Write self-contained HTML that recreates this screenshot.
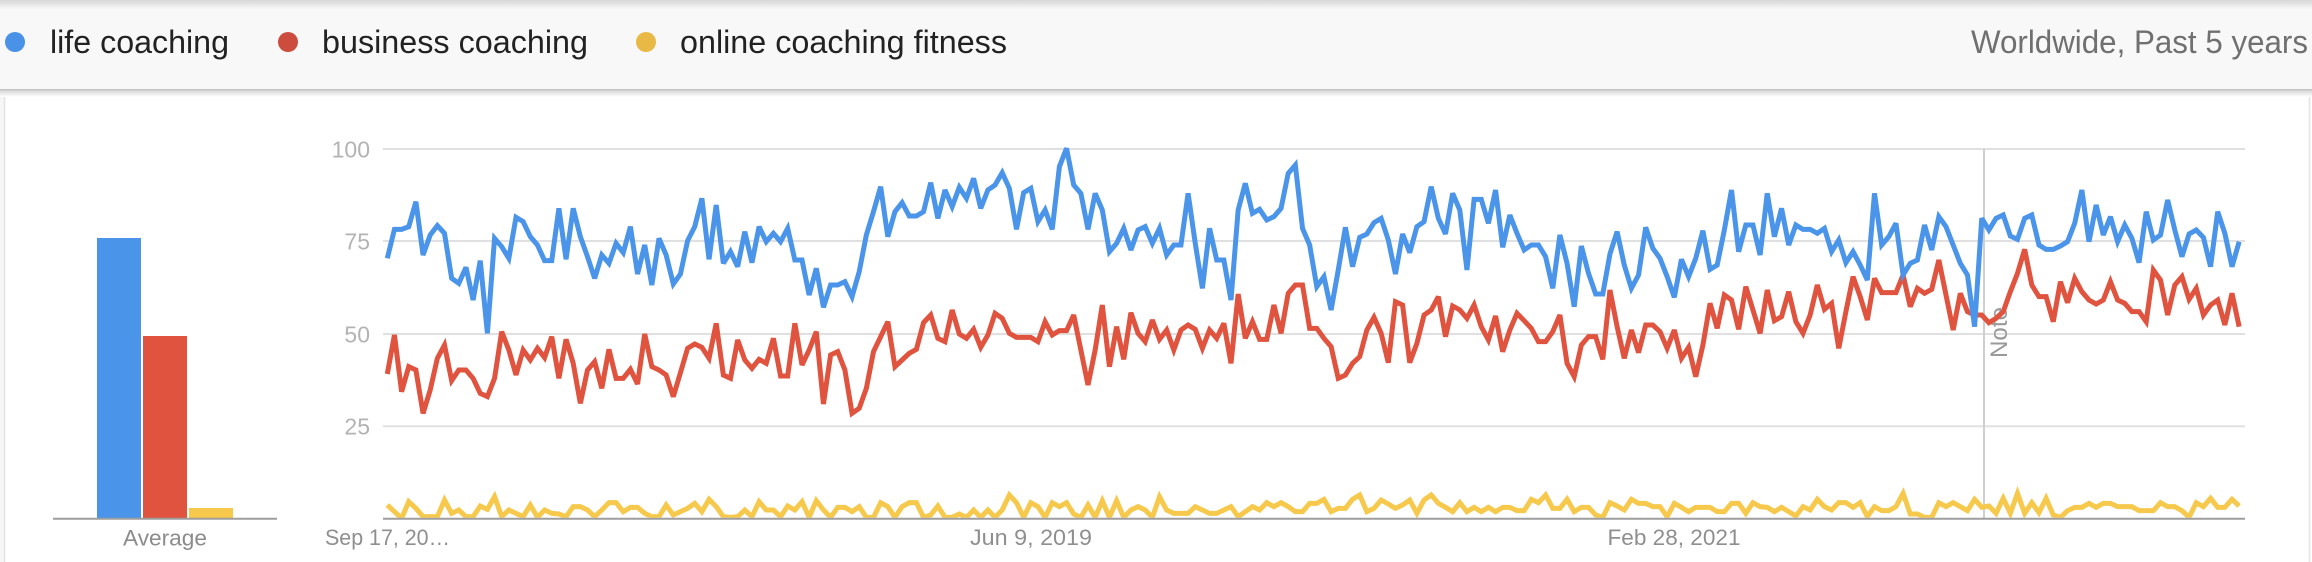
<!DOCTYPE html>
<html>
<head>
<meta charset="utf-8">
<style>
html,body{margin:0;padding:0;background:#fff;}
body{width:2312px;height:562px;overflow:hidden;position:relative;}
svg{position:absolute;left:0;top:0;display:block;}
text{font-family:"Liberation Sans",Arial,sans-serif;}
</style>
</head>
<body>
<svg width="2312" height="562" viewBox="0 0 2312 562" xmlns="http://www.w3.org/2000/svg">
  <defs>
    <linearGradient id="topShade" x1="0" y1="0" x2="0" y2="1">
      <stop offset="0" stop-color="#d6d6d6"/>
      <stop offset="1" stop-color="#f8f8f8"/>
    </linearGradient>
    <linearGradient id="botShade" x1="0" y1="0" x2="0" y2="1">
      <stop offset="0" stop-color="#bdbdbd"/>
      <stop offset="0.3" stop-color="#dcdcdc"/>
      <stop offset="1" stop-color="#ffffff"/>
    </linearGradient>
    <clipPath id="plotClip">
      <rect x="383" y="100" width="1862" height="417.7"/>
    </clipPath>
  </defs>

  <!-- background -->
  <rect x="0" y="0" width="2312" height="562" fill="#ffffff"/>
  <rect x="0" y="90" width="4" height="472" fill="#f6f6f6"/>
  <line x1="4.5" y1="90" x2="4.5" y2="562" stroke="#e3e3e3" stroke-width="1.5"/>
  <line x1="2309.5" y1="90" x2="2309.5" y2="562" stroke="#e3e3e3" stroke-width="1.5"/>

  <!-- header -->
  <rect x="0" y="0" width="2312" height="90" fill="#f8f8f8"/>
  <rect x="0" y="0" width="2312" height="9" fill="url(#topShade)"/>
  <rect x="0" y="89" width="2312" height="8" fill="url(#botShade)"/>

  <circle cx="15" cy="42" r="10" fill="#4a92e8"/>
  <text x="50" y="53" font-size="32" fill="#222222" textLength="179" lengthAdjust="spacingAndGlyphs">life coaching</text>
  <circle cx="288" cy="42" r="10" fill="#cc4d3e"/>
  <text x="322" y="53" font-size="32" fill="#222222" textLength="266" lengthAdjust="spacingAndGlyphs">business coaching</text>
  <circle cx="646" cy="42" r="10" fill="#e9b945"/>
  <text x="680" y="53" font-size="32" fill="#222222" textLength="327" lengthAdjust="spacingAndGlyphs">online coaching fitness</text>
  <text x="1971" y="53" font-size="32" fill="#707070" textLength="337" lengthAdjust="spacingAndGlyphs">Worldwide, Past 5 years</text>

  <!-- average bars -->
  <rect x="97" y="238" width="44" height="280" fill="#4a94e9"/>
  <rect x="143" y="336" width="44" height="182" fill="#e0533f"/>
  <rect x="189" y="508" width="44" height="10" fill="#f6c94c"/>
  <line x1="53" y1="518.7" x2="277" y2="518.7" stroke="#9e9e9e" stroke-width="2"/>
  <text x="165" y="545.5" font-size="22.5" fill="#8c8c8c" text-anchor="middle" textLength="84" lengthAdjust="spacingAndGlyphs">Average</text>

  <!-- gridlines -->
  <g stroke="#e0e0e0" stroke-width="2">
    <line x1="383" y1="149" x2="2245" y2="149"/>
    <line x1="383" y1="241" x2="2245" y2="241"/>
    <line x1="383" y1="334" x2="2245" y2="334"/>
    <line x1="383" y1="426.3" x2="2245" y2="426.3"/>
  </g>
  <g font-size="23" fill="#b3b3b3" text-anchor="end">
    <text x="370" y="157.3">100</text>
    <text x="370" y="249.3">75</text>
    <text x="370" y="342.3">50</text>
    <text x="370" y="434.6">25</text>
  </g>

  <!-- note line -->
  <line x1="1984" y1="149" x2="1984" y2="518" stroke="#cfcfcf" stroke-width="2"/>
  <text transform="translate(2007 358) rotate(-90)" font-size="24" fill="#9a9a9a" textLength="51" lengthAdjust="spacingAndGlyphs">Note</text>

  <!-- series -->
  <g clip-path="url(#plotClip)">
  <g transform="translate(387.3 130) scale(7.15 0.333333)" fill="none" stroke-width="5" stroke-linejoin="miter" stroke-miterlimit="3">
    <polyline vector-effect="non-scaling-stroke" stroke="#f6c94c" points="0,1125 1,1145 2,1165 3,1115 4,1135 5,1160 6,1160 7,1160 8,1110 9,1150 10,1140 11,1160 12,1160 13,1128 14,1138 15,1100 16,1160 17,1140 18,1150 19,1160 20,1125 21,1162 22,1140 23,1150 24,1152 25,1160 26,1130 27,1130 28,1140 29,1160 30,1140 31,1118 32,1118 33,1145 34,1132 35,1132 36,1150 37,1160 38,1160 39,1125 40,1155 41,1145 42,1135 43,1120 44,1145 45,1108 46,1130 47,1160 48,1162 49,1160 50,1140 51,1160 52,1115 53,1140 54,1140 55,1160 56,1128 57,1140 58,1115 59,1162 60,1112 61,1140 62,1162 63,1132 64,1132 65,1145 66,1130 67,1162 68,1162 69,1118 70,1130 71,1162 72,1130 73,1118 74,1118 75,1162 76,1155 77,1128 78,1162 79,1162 80,1152 81,1162 82,1140 83,1162 84,1140 85,1162 86,1140 87,1095 88,1118 89,1162 90,1118 91,1130 92,1162 93,1118 94,1130 95,1118 96,1152 97,1162 98,1125 99,1162 100,1112 101,1162 102,1112 103,1162 104,1140 105,1130 106,1140 107,1162 108,1100 109,1140 110,1150 111,1150 112,1150 113,1130 114,1140 115,1150 116,1150 117,1140 118,1130 119,1160 120,1145 121,1130 122,1140 123,1118 124,1130 125,1118 126,1130 127,1145 128,1145 129,1120 130,1120 131,1108 132,1145 133,1135 134,1135 135,1108 136,1095 137,1145 138,1135 139,1110 140,1122 141,1135 142,1125 143,1110 144,1150 145,1110 146,1095 147,1120 148,1132 149,1145 150,1118 151,1145 152,1132 153,1145 154,1132 155,1145 156,1132 157,1132 158,1142 159,1142 160,1108 161,1118 162,1095 163,1135 164,1135 165,1108 166,1145 167,1132 168,1132 169,1155 170,1162 171,1118 172,1128 173,1140 174,1108 175,1120 176,1120 177,1130 178,1130 179,1160 180,1120 181,1132 182,1145 183,1132 184,1132 185,1132 186,1145 187,1145 188,1120 189,1120 190,1150 191,1118 192,1130 193,1132 194,1145 195,1132 196,1145 197,1158 198,1130 199,1140 200,1108 201,1130 202,1140 203,1118 204,1118 205,1132 206,1118 207,1160 208,1130 209,1142 210,1142 211,1130 212,1090 213,1152 214,1152 215,1162 216,1162 217,1118 218,1130 219,1118 220,1130 221,1142 222,1108 223,1132 224,1128 225,1150 226,1105 227,1150 228,1090 229,1150 230,1118 231,1148 232,1105 233,1155 234,1162 235,1142 236,1132 237,1132 238,1120 239,1132 240,1120 241,1120 242,1130 243,1130 244,1130 245,1142 246,1142 247,1142 248,1118 249,1130 250,1130 251,1142 252,1162 253,1118 254,1130 255,1105 256,1132 257,1132 258,1108 259,1128"/>
    <polyline vector-effect="non-scaling-stroke" stroke="#e0533f" points="0,732 1,615 2,785 3,710 4,720 5,850 6,780 7,685 8,645 9,752 10,720 11,720 12,745 13,790 14,800 15,745 16,605 17,660 18,735 19,660 20,690 21,655 22,683 23,620 24,745 25,628 26,700 27,820 28,720 29,695 30,775 31,658 32,745 33,745 34,718 35,762 36,612 37,710 38,720 39,735 40,800 41,728 42,655 43,642 44,652 45,685 46,580 47,735 48,745 49,630 50,690 51,715 52,688 53,700 54,625 55,738 56,738 57,580 58,705 59,660 60,605 61,822 62,675 63,665 64,720 65,850 66,835 67,775 68,665 69,620 70,575 71,710 72,690 73,670 74,658 75,578 76,555 77,625 78,635 79,540 80,612 81,625 82,598 83,652 84,615 85,550 86,565 87,610 88,622 89,622 90,622 91,635 92,575 93,615 94,602 95,602 96,555 97,660 98,765 99,660 100,525 101,710 102,590 103,688 104,548 105,610 106,635 107,570 108,628 109,600 110,660 111,600 112,585 113,598 114,655 115,600 116,625 117,580 118,700 119,492 120,625 121,575 122,628 123,628 124,525 125,610 126,490 127,465 128,465 129,595 130,595 131,625 132,650 133,745 134,735 135,700 136,680 137,600 138,562 139,610 140,698 141,515 142,525 143,698 144,640 145,555 146,540 147,500 148,620 149,528 150,540 151,565 152,525 153,590 154,630 155,558 156,665 157,600 158,550 159,572 160,595 161,635 162,635 163,605 164,555 165,700 166,740 167,645 168,620 169,620 170,688 171,480 172,590 173,685 174,600 175,668 176,585 177,585 178,605 179,655 180,600 181,685 182,652 183,740 184,645 185,520 186,595 187,495 188,510 189,598 190,470 191,540 192,610 193,480 194,572 195,560 196,485 197,575 198,610 199,555 200,465 201,538 202,520 203,655 204,545 205,440 206,500 207,570 208,445 209,488 210,488 211,488 212,435 213,530 214,475 215,490 216,478 217,390 218,495 219,600 220,490 221,545 222,555 223,555 224,578 225,565 226,545 227,485 228,430 229,358 230,465 231,500 232,500 233,575 234,455 235,518 236,445 237,485 238,510 239,522 240,510 241,455 242,510 243,520 244,545 245,545 246,575 247,420 248,450 249,555 250,465 251,440 252,508 253,475 254,555 255,525 256,510 257,585 258,490 259,590"/>
    <polyline vector-effect="non-scaling-stroke" stroke="#4a94e9" points="0,385 1,298 2,298 3,290 4,215 5,375 6,315 7,287 8,310 9,445 10,460 11,412 12,510 13,392 14,610 15,325 16,350 17,385 18,262 19,275 20,320 21,345 22,392 23,392 24,235 25,388 26,235 27,320 28,380 29,445 30,375 31,400 32,340 33,368 34,290 35,432 36,345 37,465 38,325 39,375 40,462 41,432 42,332 43,290 44,205 45,388 46,225 47,400 48,365 49,410 50,305 51,398 52,290 53,335 54,310 55,335 56,295 57,390 58,390 59,495 60,415 61,532 62,465 63,465 64,455 65,500 66,425 67,315 68,245 69,170 70,320 71,245 72,218 73,258 74,258 75,245 76,158 77,265 78,180 79,230 80,172 81,205 82,145 83,235 84,180 85,165 86,128 87,175 88,298 89,188 90,175 91,275 92,240 93,298 94,110 95,55 96,165 97,190 98,298 99,190 100,240 101,365 102,340 103,295 104,360 105,300 106,290 107,340 108,295 109,375 110,345 111,345 112,190 113,340 114,475 115,295 116,390 117,390 118,510 119,240 120,160 121,250 122,238 123,270 124,260 125,235 126,130 127,105 128,295 129,345 130,470 131,440 132,540 133,420 134,292 135,410 136,322 137,312 138,278 139,265 140,330 141,432 142,312 143,368 144,290 145,275 146,170 147,265 148,312 149,190 150,240 151,420 152,208 153,208 154,280 155,180 156,352 157,255 158,310 159,360 160,345 161,345 162,380 163,475 164,315 165,400 166,530 167,348 168,430 169,492 170,492 171,372 172,305 173,405 174,475 175,435 176,292 177,355 178,385 179,440 180,502 181,388 182,440 183,385 184,302 185,418 186,405 187,300 188,180 189,365 190,285 191,285 192,375 193,190 194,320 195,235 196,345 197,285 198,298 199,298 200,310 201,295 202,365 203,330 204,398 205,365 206,405 207,450 208,190 209,345 210,320 211,280 212,435 213,400 214,390 215,285 216,360 217,260 218,290 219,345 220,400 221,435 222,590 223,265 224,300 225,265 226,255 227,318 228,328 229,265 230,255 231,345 232,358 233,358 234,348 235,335 236,280 237,180 238,335 239,225 240,315 241,260 242,335 243,285 244,325 245,398 246,245 247,330 248,315 249,210 250,300 251,380 252,312 253,300 254,322 255,410 256,245 257,310 258,410 259,335"/>
  </g>
  </g>

  <!-- baseline -->
  <line x1="383" y1="518.7" x2="2245" y2="518.7" stroke="#9e9e9e" stroke-width="2"/>

  <!-- x labels -->
  <g font-size="22.5" fill="#8f8f8f" text-anchor="middle">
    <text x="387.5" y="545" textLength="125" lengthAdjust="spacingAndGlyphs">Sep 17, 20…</text>
    <text x="1031" y="545" textLength="122" lengthAdjust="spacingAndGlyphs">Jun 9, 2019</text>
    <text x="1674" y="545" textLength="133" lengthAdjust="spacingAndGlyphs">Feb 28, 2021</text>
  </g>
</svg>
</body>
</html>
